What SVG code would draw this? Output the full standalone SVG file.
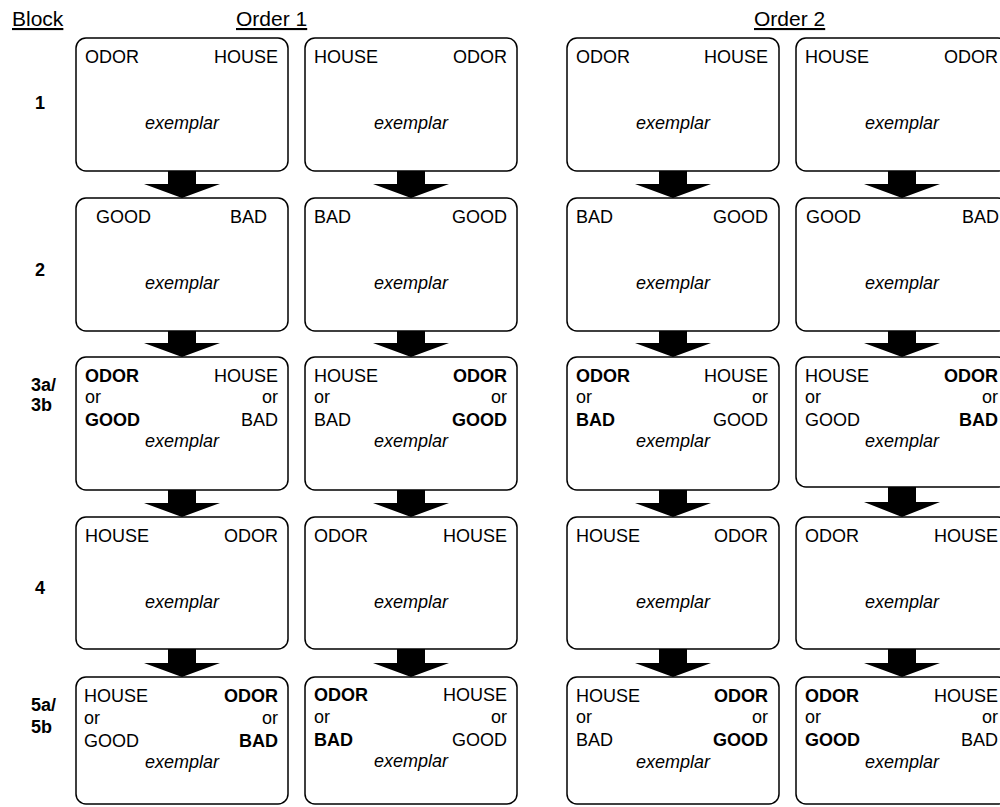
<svg xmlns="http://www.w3.org/2000/svg" width="1000" height="807" viewBox="0 0 1000 807">
<style>
text{font-family:"Liberation Sans",Arial,sans-serif;font-size:18px;fill:#000}
.h{font-size:21px;text-decoration:underline}
.lab{font-weight:bold;font-size:18px}
.b{font-weight:bold}
.ex{font-style:italic;text-anchor:middle}
.r{text-anchor:end}
.box{fill:#fff;stroke:#000;stroke-width:1.5}
.arr{fill:#000}
</style>
<rect width="1000" height="807" fill="#fff"/>
<g id="headers">
<text class="h" x="12" y="26">Block</text>
<text class="h" x="236" y="26">Order 1</text>
<text class="h" x="754" y="26">Order 2</text>
</g>
<g id="row-labels">
<text class="lab" x="40" y="109" text-anchor="middle">1</text>
<text class="lab" x="40" y="276" text-anchor="middle">2</text>
<text class="lab" x="31" y="391">3a/</text>
<text class="lab" x="31" y="411">3b</text>
<text class="lab" x="40" y="594" text-anchor="middle">4</text>
<text class="lab" x="31" y="711">5a/</text>
<text class="lab" x="31" y="733">5b</text>
</g>
<g id="connectors">
<polygon class="arr" points="168,171 196,171 196,184 220,184 182,198 144,184 168,184"/>
<polygon class="arr" points="168,331 196,331 196,343 220,343 182,357 144,343 168,343"/>
<polygon class="arr" points="168,490 196,490 196,503 220,503 182,517 144,503 168,503"/>
<polygon class="arr" points="168,649 196,649 196,663 220,663 182,677 144,663 168,663"/>
<polygon class="arr" points="397,171 425,171 425,184 449,184 411,198 373,184 397,184"/>
<polygon class="arr" points="397,331 425,331 425,343 449,343 411,357 373,343 397,343"/>
<polygon class="arr" points="397,490 425,490 425,503 449,503 411,517 373,503 397,503"/>
<polygon class="arr" points="397,649 425,649 425,663 449,663 411,677 373,663 397,663"/>
<polygon class="arr" points="659,171 687,171 687,184 711,184 673,198 635,184 659,184"/>
<polygon class="arr" points="659,331 687,331 687,343 711,343 673,357 635,343 659,343"/>
<polygon class="arr" points="659,490 687,490 687,503 711,503 673,517 635,503 659,503"/>
<polygon class="arr" points="659,649 687,649 687,663 711,663 673,677 635,663 659,663"/>
<polygon class="arr" points="888,171 916,171 916,184 940,184 902,198 864,184 888,184"/>
<polygon class="arr" points="888,331 916,331 916,343 940,343 902,357 864,343 888,343"/>
<polygon class="arr" points="888,487 916,487 916,502 940,502 902,517 864,502 888,502"/>
<polygon class="arr" points="888,649 916,649 916,663 940,663 902,677 864,663 888,663"/>
</g>
<!-- Order 1, column 1 -->
<g id="o1a-b1"><rect class="box" x="76" y="38" width="212" height="133" rx="10"/>
<text x="85" y="63">ODOR</text><text class="r" x="278" y="63">HOUSE</text><text class="ex" x="182" y="129">exemplar</text></g>
<g id="o1a-b2"><rect class="box" x="76" y="198" width="212" height="133" rx="10"/>
<text x="96" y="223">GOOD</text><text class="r" x="267" y="223">BAD</text><text class="ex" x="182" y="289">exemplar</text></g>
<g id="o1a-b3"><rect class="box" x="76" y="357" width="212" height="133" rx="10"/>
<text class="b" x="85" y="382">ODOR</text><text x="85" y="403">or</text><text class="b" x="85" y="426">GOOD</text>
<text class="r" x="278" y="382">HOUSE</text><text class="r" x="278" y="403">or</text><text class="r" x="278" y="426">BAD</text>
<text class="ex" x="182" y="447">exemplar</text></g>
<g id="o1a-b4"><rect class="box" x="76" y="517" width="212" height="132" rx="10"/>
<text x="85" y="542">HOUSE</text><text class="r" x="278" y="542">ODOR</text><text class="ex" x="182" y="608">exemplar</text></g>
<g id="o1a-b5"><rect class="box" x="76" y="677" width="212" height="127" rx="10"/>
<text x="84" y="702">HOUSE</text><text x="84" y="724">or</text><text x="84" y="747">GOOD</text>
<text class="b r" x="278" y="702">ODOR</text><text class="r" x="278" y="724">or</text><text class="b r" x="278" y="747">BAD</text>
<text class="ex" x="182" y="768">exemplar</text></g>
<!-- Order 1, column 2 -->
<g id="o1b-b1"><rect class="box" x="305" y="38" width="212" height="133" rx="10"/>
<text x="314" y="63">HOUSE</text><text class="r" x="507" y="63">ODOR</text><text class="ex" x="411" y="129">exemplar</text></g>
<g id="o1b-b2"><rect class="box" x="305" y="198" width="212" height="133" rx="10"/>
<text x="314" y="223">BAD</text><text class="r" x="507" y="223">GOOD</text><text class="ex" x="411" y="289">exemplar</text></g>
<g id="o1b-b3"><rect class="box" x="305" y="357" width="212" height="133" rx="10"/>
<text x="314" y="382">HOUSE</text><text x="314" y="403">or</text><text x="314" y="426">BAD</text>
<text class="b r" x="507" y="382">ODOR</text><text class="r" x="507" y="403">or</text><text class="b r" x="507" y="426">GOOD</text>
<text class="ex" x="411" y="447">exemplar</text></g>
<g id="o1b-b4"><rect class="box" x="305" y="517" width="212" height="132" rx="10"/>
<text x="314" y="542">ODOR</text><text class="r" x="507" y="542">HOUSE</text><text class="ex" x="411" y="608">exemplar</text></g>
<g id="o1b-b5"><rect class="box" x="305" y="677" width="212" height="127" rx="10"/>
<text class="b" x="314" y="701">ODOR</text><text x="314" y="723">or</text><text class="b" x="314" y="746">BAD</text>
<text class="r" x="507" y="701">HOUSE</text><text class="r" x="507" y="723">or</text><text class="r" x="507" y="746">GOOD</text>
<text class="ex" x="411" y="767">exemplar</text></g>
<!-- Order 2, column 3 -->
<g id="o2a-b1"><rect class="box" x="567" y="38" width="212" height="133" rx="10"/>
<text x="576" y="63">ODOR</text><text class="r" x="768" y="63">HOUSE</text><text class="ex" x="673" y="129">exemplar</text></g>
<g id="o2a-b2"><rect class="box" x="567" y="198" width="212" height="133" rx="10"/>
<text x="576" y="223">BAD</text><text class="r" x="768" y="223">GOOD</text><text class="ex" x="673" y="289">exemplar</text></g>
<g id="o2a-b3"><rect class="box" x="567" y="357" width="212" height="133" rx="10"/>
<text class="b" x="576" y="382">ODOR</text><text x="576" y="403">or</text><text class="b" x="576" y="426">BAD</text>
<text class="r" x="768" y="382">HOUSE</text><text class="r" x="768" y="403">or</text><text class="r" x="768" y="426">GOOD</text>
<text class="ex" x="673" y="447">exemplar</text></g>
<g id="o2a-b4"><rect class="box" x="567" y="517" width="212" height="132" rx="10"/>
<text x="576" y="542">HOUSE</text><text class="r" x="768" y="542">ODOR</text><text class="ex" x="673" y="608">exemplar</text></g>
<g id="o2a-b5"><rect class="box" x="567" y="677" width="212" height="127" rx="10"/>
<text x="576" y="702">HOUSE</text><text x="576" y="723">or</text><text x="576" y="746">BAD</text>
<text class="b r" x="768" y="702">ODOR</text><text class="r" x="768" y="723">or</text><text class="b r" x="768" y="746">GOOD</text>
<text class="ex" x="673" y="768">exemplar</text></g>
<!-- Order 2, column 4 -->
<g id="o2b-b1"><rect class="box" x="796" y="38" width="212" height="133" rx="10"/>
<text x="805" y="63">HOUSE</text><text class="r" x="998" y="63">ODOR</text><text class="ex" x="902" y="129">exemplar</text></g>
<g id="o2b-b2"><rect class="box" x="796" y="198" width="212" height="133" rx="10"/>
<text x="806" y="223">GOOD</text><text class="r" x="999" y="223">BAD</text><text class="ex" x="902" y="289">exemplar</text></g>
<g id="o2b-b3"><rect class="box" x="796" y="357" width="212" height="130" rx="10"/>
<text x="805" y="382">HOUSE</text><text x="805" y="403">or</text><text x="805" y="426">GOOD</text>
<text class="b r" x="998" y="382">ODOR</text><text class="r" x="998" y="403">or</text><text class="b r" x="998" y="426">BAD</text>
<text class="ex" x="902" y="447">exemplar</text></g>
<g id="o2b-b4"><rect class="box" x="796" y="517" width="212" height="132" rx="10"/>
<text x="805" y="542">ODOR</text><text class="r" x="998" y="542">HOUSE</text><text class="ex" x="902" y="608">exemplar</text></g>
<g id="o2b-b5"><rect class="box" x="796" y="677" width="212" height="127" rx="10"/>
<text class="b" x="805" y="702">ODOR</text><text x="805" y="723">or</text><text class="b" x="805" y="746">GOOD</text>
<text class="r" x="998" y="702">HOUSE</text><text class="r" x="998" y="723">or</text><text class="r" x="998" y="746">BAD</text>
<text class="ex" x="902" y="768">exemplar</text></g>
</svg>
